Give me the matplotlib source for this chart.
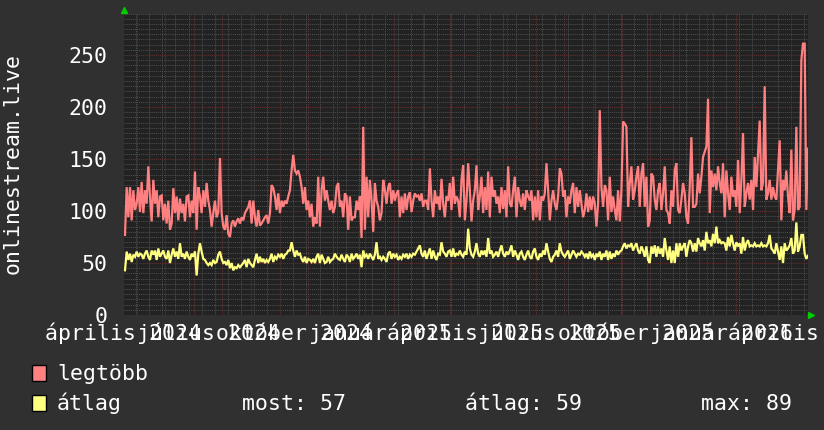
import numpy as np
import matplotlib
matplotlib.use("Agg")
import matplotlib.pyplot as plt
from matplotlib.patches import Rectangle
from matplotlib.transforms import blended_transform_factory

# ---------------- data ----------------
START = np.datetime64("2024-04-02")
END = np.datetime64("2026-04-03")

legtobb = [
    77,123,94,123,91,120,101,107,123,99, 128,98,120,107,143,114,90,130,107,120,
    94,114,115,91,107,88,110,82,88,122, 98,114,91,112,98,107,90,114,115,94,
    110,98,138,82,123,114,98,120,104,127, 110,101,85,98,110,94,99,151,98,85,
    82,96,78,75,88,91,85,90,93,88, 94,91,98,101,104,110,88,110,94,85,
    101,86,88,91,94,96,88,98,125,122, 114,101,117,98,110,104,110,107,114,120,
    139,154,139,136,139,133,123,107,123,101, 110,94,107,85,94,88,133,85,120,133,
    110,120,110,101,110,98,104,123,127,104, 110,94,117,114,82,114,91,94,
    94,110,101,114,74,181,82,133,94,130, 110,80,127,110,104,91,98,130,120,107,
    123,127,107,120,110,117,120,94,114,98, 117,101,114,118,99,110,117,114,115,110,
    117,104,110,110,101,141,110,94,120,107, 114,101,131,107,94,114,110,127,101,133,
    107,114,110,94,130,144,91,110,146,120, 90,110,120,144,101,114,133,98,123,101,
    138,94,133,114,120,107,114,98,123,102, 120,94,143,107,104,120,133,94,123,110,
    104,117,101,120,114,110,120,91,114,94, 120,91,114,110,117,146,120,91,110,120,
    107,101,114,141,136,114,120,94,114,107, 120,127,98,123,104,120,107,94,
    101,117,99,114,101,114,107,85,107,197, 123,104,125,120,91,133,99,114,101,91,
    120,90,120,186,184,181,104,127,143,111, 120,133,143,104,136,146,104,133,85,91,
    136,133,111,101,120,127,101,117,143,101, 98,88,120,104,139,146,101,98,111,127,
    117,94,88,123,171,104,104,107,136,117, 133,152,157,162,208,98,139,123,136,120,
    143,127,117,146,94,139,117,101,133,114, 120,104,149,98,130,175,104,117,127,111,
    130,101,152,123,155,187,120,127,220,111, 117,130,111,123,114,111,139,168,91,130,
    120,139,114,98,159,91,101,181,101,104, 245,261,261,101,160,
]

atlag = [
    43,61,53,59,51,58,56,61,56,59, 58,54,59,62,56,53,62,58,62,53,
    64,56,59,62,56,54,62,50,58,64, 56,61,54,69,56,59,54,61,56,53,
    59,56,61,38,59,69,61,54,53,50, 48,50,48,53,50,51,58,61,54,50,
    51,48,53,45,50,43,46,45,48,46, 48,50,53,46,54,50,48,46,53,59,
    50,56,51,54,50,53,51,54,59,51, 56,54,58,56,59,54,58,59,62,62,
    70,62,56,62,58,59,54,51,56,50, 54,53,51,54,50,56,59,50,58,54,
    50,51,56,51,53,54,59,56,54,53, 58,54,51,58,56,51,59,54,
    56,59,54,58,46,62,56,58,54,59, 56,53,58,70,54,56,53,56,54,51,
    59,61,54,59,56,58,53,56,54,58, 56,59,54,58,56,59,58,61,64,67,
    59,56,62,54,59,64,54,62,56,53, 59,58,70,61,59,56,61,62,56,64,
    56,59,58,62,58,56,61,58,83,64, 58,56,61,69,59,56,62,58,62,56,
    74,59,62,56,58,61,56,62,67,59, 56,61,58,62,67,56,62,58,53,59,
    61,56,53,58,62,56,54,61,64,56, 53,59,56,62,58,69,61,54,51,56,
    58,62,56,69,61,58,56,59,62,54, 58,62,59,56,59,58,61,59,
    56,59,54,61,56,58,53,59,56,61, 53,59,56,62,53,61,54,59,56,62,
    58,61,62,66,69,64,67,66,69,62, 66,69,62,59,66,62,56,66,53,50,
    66,59,67,56,66,59,64,56,74,62, 53,66,50,62,50,69,56,69,62,66,
    69,56,66,72,69,61,69,61,74,69, 66,72,62,80,69,72,66,78,69,85,
    69,72,69,70,69,62,75,66,77,69, 62,70,66,69,59,75,62,69,72,66,
    67,66,69,66,67,66,69,66,67,66, 69,77,64,62,59,69,61,53,66,50,
    69,62,64,67,74,59,62,89,61,66, 77,77,59,54,57,
]

y_ticks = [0, 50, 100, 150, 200, 250]
x_labels = ["április 2024", "július 2024", "október 2024", "január 2025",
            "április 2025", "július 2025", "október 2025", "január 2026",
            "április 2026"]
x_label_dates = ["2024-04-01", "2024-07-01", "2024-10-01", "2025-01-01",
                 "2025-04-01", "2025-07-01", "2025-10-01", "2026-01-01",
                 "2026-04-01"]
series_names = ["legtöbb", "átlag"]
stat_most, stat_atlag, stat_max = 57, 59, 89
y_title = "onlinestream.live"

# ---------------- style ----------------
BG = "#303030"
PLOT_BG = "#222222"
RED = "#FF8080"
YEL = "#FFFF80"
MINOR = "#4e4e4e"
MAJOR = "#663030"
FONT = "DejaVu Sans Mono"
FS = 15.5

total_days = float((END - START) / np.timedelta64(1, "D"))
n = len(legtobb)
t = np.linspace(1.07, total_days, n)

fig = plt.figure(figsize=(8.24, 4.30), dpi=100, facecolor=BG)
ax = fig.add_axes([124 / 824, 1 - 315 / 430, 684 / 824, 301.5 / 430])
ax.set_facecolor(PLOT_BG)
ax.set_xlim(0, total_days)
ax.set_ylim(0, 290)
for s in ax.spines.values():
    s.set_visible(False)


def days(d):
    return float((np.datetime64(d) - START) / np.timedelta64(1, "D"))


major_x = []
for y in (2024, 2025, 2026):
    for m in range(1, 13):
        d = days(f"{y}-{m:02d}-16")
        if 0 <= d <= total_days:
            major_x.append(d)
minor_x = []
d = days("2024-04-15")
while d <= total_days:
    minor_x.append(d)
    d += 14

ax.set_xticks(major_x)
ax.set_xticks(minor_x, minor=True)
ax.set_yticks(y_ticks)
ax.set_yticks(np.arange(0, 291, 5), minor=True)
ax.set_xticklabels([])
ax.set_yticklabels([str(v) for v in y_ticks], fontfamily=FONT, fontsize=FS,
                   color="white")
ax.tick_params(axis="x", which="both", length=0)
ax.tick_params(axis="y", which="both", length=0, pad=12)
ax.grid(which="minor", color=MINOR, linestyle=(0, (1, 1)), linewidth=0.75)
ax.grid(which="major", color=MAJOR, linestyle=(0, (1, 1)), linewidth=0.75)
ax.set_axisbelow(True)

ax.plot(t, legtobb, color=RED, linewidth=1.6, solid_joinstyle="miter")
ax.plot(t, atlag, color=YEL, linewidth=1.6, solid_joinstyle="miter")

# x labels (overlapping, like the original)
tr = blended_transform_factory(ax.transData, fig.transFigure)
for lab, dd in zip(x_labels, x_label_dates):
    ax.text(days(dd), 1 - 340 / 430, lab, transform=tr, ha="center",
            va="baseline", fontfamily=FONT, fontsize=FS, color="white",
            clip_on=False)

# y title
fig.text(13 / 824, 1 - 164 / 430, y_title, rotation=90, ha="center",
         va="center", fontfamily=FONT, fontsize=FS, color="white")

# arrows
fig.lines.append(plt.Line2D([124 / 824], [1 - 10 / 430], marker="^",
                            color="#00cc00", markersize=5,
                            transform=fig.transFigure))
fig.lines.append(plt.Line2D([811 / 824], [1 - 315 / 430], marker=">",
                            color="#00cc00", markersize=5,
                            transform=fig.transFigure))

# legend
for (name, col, base) in [(series_names[0], RED, 380), (series_names[1], YEL, 409.5)]:
    fig.patches.append(Rectangle((32 / 824, 1 - (base + 1) / 430), 14 / 824,
                                 16 / 430, transform=fig.transFigure,
                                 facecolor=col, edgecolor="black",
                                 linewidth=1))
    fig.text(57 / 824, 1 - base / 430, name, ha="left", va="baseline",
             fontfamily=FONT, fontsize=FS, color="white")

fig.text(242 / 824, 1 - 409.5 / 430, f"most: {stat_most}", ha="left",
         va="baseline", fontfamily=FONT, fontsize=FS, color="white")
fig.text(465 / 824, 1 - 409.5 / 430, f"átlag: {stat_atlag}", ha="left",
         va="baseline", fontfamily=FONT, fontsize=FS, color="white")
fig.text(701 / 824, 1 - 409.5 / 430, f"max: {stat_max}", ha="left",
         va="baseline", fontfamily=FONT, fontsize=FS, color="white")

fig.savefig("out.png", dpi=100, facecolor=BG)
